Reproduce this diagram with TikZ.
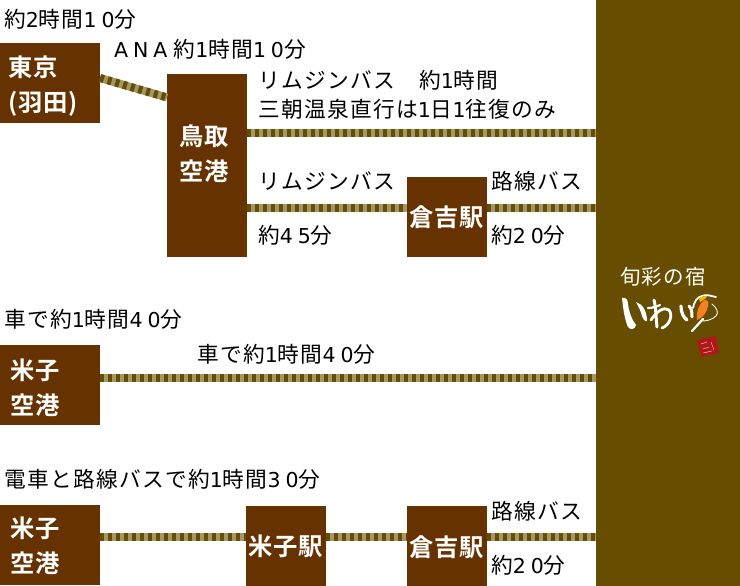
\documentclass[tikz,border=0pt]{standalone}
\usepackage{fontspec}
\setmainfont[LetterSpace=6]{Noto Sans CJK JP}
\newfontfamily\jpb[LetterSpace=3]{Noto Sans CJK JP Bold}
\newfontfamily\dgfont[LetterSpace=24]{DejaVu Sans}
\newcommand{\dg}[1]{{\dgfont\fontsize{20.5}{28}\selectfont #1}}
\definecolor{boxbrown}{HTML}{663300}
\definecolor{olive}{HTML}{664D00}
\definecolor{tan}{HTML}{A39668}
\definecolor{logoorange}{HTML}{F58220}
\definecolor{logoyellow}{HTML}{F5B800}
\definecolor{sealred}{HTML}{B01818}
\tikzset{x=1pt,y=-1pt,
 stationbox/.style={fill=boxbrown,draw=none,inner sep=0pt},
 boxtext/.style={inner sep=0pt,text=white,font=\jpb\fontsize{24.3}{30}\selectfont},
 lab/.style={anchor=west,inner sep=0pt,text=black,font=\fontsize{21.7}{28}\selectfont},
 railbase/.style={draw=tan,line width=8pt},
 railtop/.style={draw=olive,line width=8pt,dash pattern=on 4pt off 4pt}}
\newcommand{\railline}[2]{\draw[railbase] (#1) -- (#2);\draw[railtop] (#1) -- (#2);}
\begin{document}
\begin{tikzpicture}
\useasboundingbox (0,0) rectangle (740,586);
\fill[white] (0,0) rectangle (740,586);
\node[fill=olive,minimum width=144pt,minimum height=586pt,inner sep=0pt] (inn) at (668,293) {};
\node[stationbox,minimum width=100pt,minimum height=80pt] (tokyo) at (50,83) {};
\node[stationbox,minimum width=80pt,minimum height=183pt] (tottori) at (207,165.5) {};
\node[stationbox,minimum width=80pt,minimum height=80pt] (kura1) at (447,217) {};
\node[stationbox,minimum width=100pt,minimum height=80pt] (yona1) at (50,385) {};
\node[stationbox,minimum width=100pt,minimum height=80pt] (yona2) at (50,545) {};
\node[stationbox,minimum width=80pt,minimum height=80pt] (yonaeki) at (286,546) {};
\node[stationbox,minimum width=80pt,minimum height=80pt] (kura2) at (447,546) {};
\coordinate (r1) at (100,78);\coordinate (r2) at (167,97.5);
\railline{r1}{r2}
\railline{tottori.east |- 0,133}{inn.west |- 0,133}
\railline{tottori.east |- 0,208}{kura1.west |- 0,208}
\railline{kura1.east |- 0,208}{inn.west |- 0,208}
\railline{yona1.east |- 0,378}{inn.west |- 0,378}
\railline{yona2.east |- 0,537}{yonaeki.west |- 0,537}
\railline{yonaeki.east |- 0,537}{kura2.west |- 0,537}
\railline{kura2.east |- 0,537}{inn.west |- 0,537}
\node[boxtext,anchor=west] (n1) at (8,67) {東京};
\node[boxtext,anchor=west] (n2) at (8,104) {(羽田)};
\node[boxtext,anchor=west] (n3) at (179,136) {鳥取};
\node[boxtext,anchor=west] (n4) at (179,171) {空港};
\node[boxtext] (n5) at (447,217) {倉吉駅};
\node[boxtext,anchor=west] (n6) at (10,370) {米子};
\node[boxtext,anchor=west] (n7) at (10,405) {空港};
\node[boxtext,anchor=west] (n8) at (10,528) {米子};
\node[boxtext,anchor=west] (n9) at (10,563) {空港};
\node[boxtext] (n10) at (286,546) {米子駅};
\node[boxtext] (n11) at (447,547) {倉吉駅};
\node[lab] (t1) at (4,19) {約\dg{2}時間\dg{10}分};
\node[lab] (t2) at (114,49) {\dg{ANA} 約\dg{1}時間\dg{10}分};
\node[lab] (t3) at (258,80) {リムジンバス　約\dg{1}時間};
\node[lab] (t4) at (258,109) {三朝温泉直行は\dg{1}日\dg{1}往復のみ};
\node[lab] (t5) at (258,181) {リムジンバス};
\node[lab] (t6) at (258,235) {約\dg{45}分};
\node[lab] (t7) at (491,181) {路線バス};
\node[lab] (t8) at (491,235) {約\dg{20}分};
\node[lab] (t9) at (4,319) {車で約\dg{1}時間\dg{40}分};
\node[lab] (t10) at (197,354) {車で約\dg{1}時間\dg{40}分};
\node[lab] (t11) at (4,479) {電車と路線バスで約\dg{1}時間\dg{30}分};
\node[lab] (t12) at (491,511) {路線バス};
\node[lab] (t13) at (491,565) {約\dg{20}分};
\node[inner sep=0pt,text=white,font=\fontsize{20.5}{24}\selectfont] (logo) at (663,277) {旬彩の宿};
% handwritten logo
\fill[white] (622,298) .. controls (626,297) and (628,300) .. (628,304) .. controls (629,312) and (632,320) .. (636,325) .. controls (635,330) and (630,330) .. (628,327) .. controls (624,318) and (623,306) .. (622,298) -- cycle;
\fill[white] (636,302) .. controls (643,304) and (647,312) .. (647,321) .. controls (645,322) and (643,319) .. (642,316) .. controls (641,311) and (638,306) .. (636,302) -- cycle;
\begin{scope}[white,line cap=round,line join=round]
\draw[line width=3pt] (654,300) .. controls (656,308) and (656,318) .. (657,327);
\draw[line width=2.2pt] (648,308) .. controls (652,308) and (656,307) .. (660,305);
\draw[line width=2.8pt] (651,320) .. controls (656,312) and (664,306) .. (669,310) .. controls (673,315) and (670,325) .. (662,328);
\draw[line width=3.2pt] (681,306) .. controls (681,312) and (683,317) .. (687,320);
\draw[line width=3pt] (689,306) .. controls (692,309) and (692,313) .. (692,317);
\draw[line width=1.8pt] (693,308) .. controls (694,302) and (697,297) .. (702,296) .. controls (706,294) and (711,296) .. (716,297);
\draw[line width=0.9pt] (712,304) .. controls (717,308) and (719,313) .. (716,316) .. controls (712,320) and (706,321) .. (702,321);
\draw[line width=2.2pt] (703,319) -- (692,331);
\end{scope}
\fill[logoyellow] (699,299) .. controls (702,296) and (705,295) .. (707,296) .. controls (707,298) and (705,299) .. (703,300) -- (700,302) -- cycle;
\fill[logoorange] (704,300) .. controls (708,300) and (709,302) .. (708,306) .. controls (707,312) and (703,318) .. (697,320) .. controls (696,312) and (699,304) .. (704,300) -- cycle;
\fill[sealred] (697,340) -- (716,336) -- (719,353) -- (701,357) -- cycle;
\draw[white!70!sealred,line width=0.5pt] (701,344) -- (707,342) (703,349) -- (709,347) (711,342) -- (714,350) (703,353) -- (712,351);
\end{tikzpicture}
\end{document}
